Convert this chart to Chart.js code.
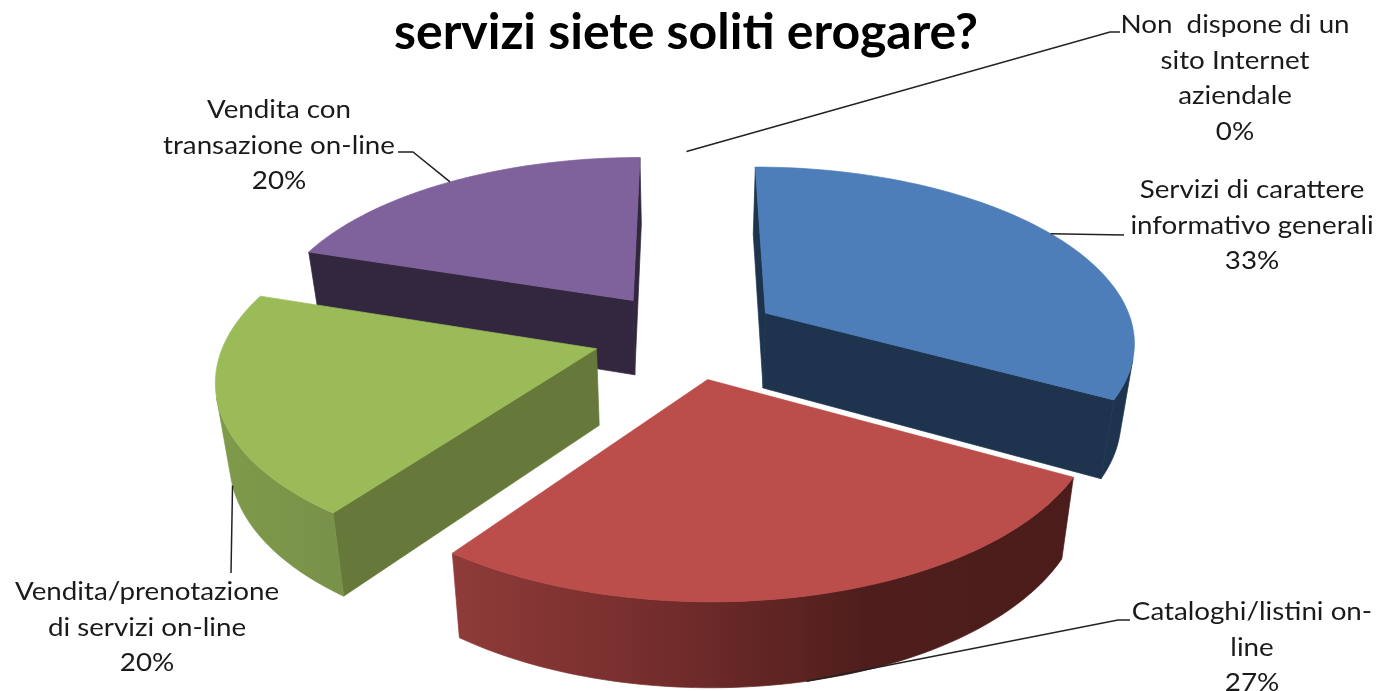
<!DOCTYPE html>
<html>
<head>
<meta charset="utf-8">
<title>servizi siete soliti erogare?</title>
<script src="https://cdn.jsdelivr.net/npm/chart.js@4"></script>
<style>
  html, body { margin: 0; padding: 0; background: #fff; overflow: hidden; }
  #wrap { width: 1386px; height: 691px; }
</style>
</head>
<body>
<div id="wrap"><canvas id="chart"></canvas></div>
<script>
// values, clockwise from 12 o'clock
const categories = [
  'Servizi di carattere informativo generali',
  'Cataloghi/listini on-line',
  'Vendita/prenotazione di servizi on-line',
  'Vendita con transazione on-line',
  'Non dispone di un sito Internet aziendale'
];
const values = [33, 27, 20, 20, 0];

const topColors = ['#4d7eb9', '#bb4d4a', '#9bbb59', '#7f619b', '#7f7f7f'];
const wallColors = ['#1e334d', '#4e1e1c', '#67793a', '#32273f', '#333333'];
const rimStops = [
  ['#1e334d', '#1e334d'],
  ['#8f3b39', '#742d2c', '#4f1e1c', '#4b1c1b'],
  ['#7f9a49', '#78924a'],
  ['#32273f', '#32273f'],
  ['#333333', '#333333']
];

// label layout: text lines, centre x, first baseline y, leader elbows
const labelLayout = [
  { lines: ['Servizi di carattere', 'informativo generali'], x: 1252, y: 198, elbows: [[1124, 235]], z: 0 },
  { lines: ['Cataloghi/listini on-', 'line'], x: 1252, y: 620, elbows: [[1118, 620], [1130, 620]], z: 1 },
  { lines: ['Vendita/prenotazione', 'di servizi on-line'], x: 147, y: 600, elbows: [[231, 573]], z: 1 },
  { lines: ['Vendita con', 'transazione on-line'], x: 279, y: 118, elbows: [[413, 152], [398, 152]], z: 0 },
  { lines: ['Non  dispone di un', 'sito Internet', 'aziendale'], x: 1235, y: 33, elbows: [[1110, 32], [1120, 32]], z: 0 }
];

// paint order, back to front
const paintOrder = [3, 2, 0, 1];

// view of the tilted pie plane, fitted to the reference
const view = { xc: 686.5, yc: 335, ax: 370, by: 174, k: 0.15, depth: 76, depthFront: 8, shrink: 0.03 };

function project(u, v, z) {
  const w = 1 - view.k * v;
  const d = view.depth + view.depthFront * v;
  return [
    view.xc + view.ax * u / w * (1 - view.shrink * z),
    view.yc + view.by * v / w + d * z
  ];
}

// u, v in pie radii, taken from the arc element chart.js laid out
function arcPoint(el, angle, radial) {
  const mid = (el.startAngle + el.endAngle) / 2;
  const e = el.options.offset / el.outerRadius;
  return [Math.cos(mid) * e + Math.cos(angle) * radial, Math.sin(mid) * e + Math.sin(angle) * radial];
}

function polygon(ctx, pts, fill) {
  ctx.beginPath();
  pts.forEach((p, i) => i ? ctx.lineTo(p[0], p[1]) : ctx.moveTo(p[0], p[1]));
  ctx.closePath();
  ctx.fillStyle = fill;
  ctx.strokeStyle = fill;
  ctx.lineWidth = 0.7;
  ctx.fill();
  ctx.stroke();
}

// screen-space winding tells which walls face the viewer
function faces(a, b) {
  const p = project(a[0], a[1], 0), q = project(b[0], b[1], 0), r = project(b[0], b[1], 1);
  return (q[0] - p[0]) * (r[1] - p[1]) - (q[1] - p[1]) * (r[0] - p[0]) < 0;
}

function wall(ctx, a, b, fill) {
  polygon(ctx, [project(a[0], a[1], 0), project(b[0], b[1], 0), project(b[0], b[1], 1), project(a[0], a[1], 1)], fill);
}

const pie3d = {
  id: 'pie3d',
  beforeDatasetsDraw(chart) {
    const ctx = chart.ctx;
    const arcs = chart.getDatasetMeta(0).data;
    ctx.save();

    paintOrder.forEach(i => {
      const el = arcs[i];
      const steps = 80;
      const rim = [];
      for (let s = 0; s <= steps; s++) {
        rim.push(arcPoint(el, el.startAngle + (el.endAngle - el.startAngle) * s / steps, 1));
      }
      const apex = arcPoint(el, el.startAngle, 0);

      // radial walls first
      if (faces(apex, rim[0])) wall(ctx, apex, rim[0], wallColors[i]);
      if (faces(rim[steps], apex)) wall(ctx, rim[steps], apex, wallColors[i]);

      // rim with its sideways shading, one polygon over the visible run
      const visible = [];
      for (let s = 0; s < steps; s++) {
        if (faces(rim[s], rim[s + 1])) {
          if (!visible.length) visible.push(rim[s]);
          visible.push(rim[s + 1]);
        }
      }
      if (visible.length) {
        const xs = visible.map(p => project(p[0], p[1], 0)[0]);
        const grad = ctx.createLinearGradient(Math.min(...xs), 0, Math.max(...xs), 0);
        rimStops[i].forEach((c, n) => grad.addColorStop(n / (rimStops[i].length - 1), c));
        const upper = visible.map(p => project(p[0], p[1], 0));
        const lower = visible.map(p => project(p[0], p[1], 1)).reverse();
        polygon(ctx, [...upper, ...lower], grad);
      }

      // top face
      const top = [apex, ...rim].map(p => project(p[0], p[1], 0));
      polygon(ctx, top, topColors[i]);
    });

    // leaders and labels
    const total = values.reduce((a, b) => a + b, 0);
    ctx.textAlign = 'center';
    ctx.font = '25px Lato';
    labelLayout.forEach((lab, i) => {
      const el = arcs[i];
      const mid = (el.startAngle + el.endAngle) / 2;
      const p = arcPoint(el, mid, 1);
      const start = project(p[0], p[1], lab.z);
      ctx.beginPath();
      ctx.moveTo(start[0], start[1]);
      lab.elbows.forEach(q => ctx.lineTo(q[0], q[1]));
      ctx.strokeStyle = '#222';
      ctx.lineWidth = 1.5;
      ctx.stroke();

      ctx.fillStyle = '#1a1a1a';
      const rows = [...lab.lines, Math.round(values[i] / total * 100) + '%'];
      rows.forEach((t, r) => {
        // the source text is stretched sideways
        ctx.save();
        ctx.translate(lab.x, lab.y + r * 35.5);
        ctx.scale(1.11, 1);
        ctx.fillText(t, 0, 0);
        ctx.restore();
      });
    });

    ctx.restore();
    return false; // the 3D faces replace the flat arcs
  }
};

new Chart(document.getElementById('chart'), {
  type: 'pie',
  data: {
    labels: categories,
    datasets: [{ data: values, backgroundColor: topColors, borderWidth: 0, offset: 70 }]
  },
  options: {
    responsive: true,
    maintainAspectRatio: false,
    animation: false,
    layout: { padding: { right: 14 } },
    plugins: {
      legend: { display: false },
      tooltip: { enabled: false },
      title: {
        display: true,
        text: 'servizi siete soliti erogare?',
        color: '#000',
        font: { family: 'Lato', size: 50, weight: 'bold' },
        padding: { top: 3, bottom: 4 }
      }
    }
  },
  plugins: [pie3d]
});
</script>
</body>
</html>
